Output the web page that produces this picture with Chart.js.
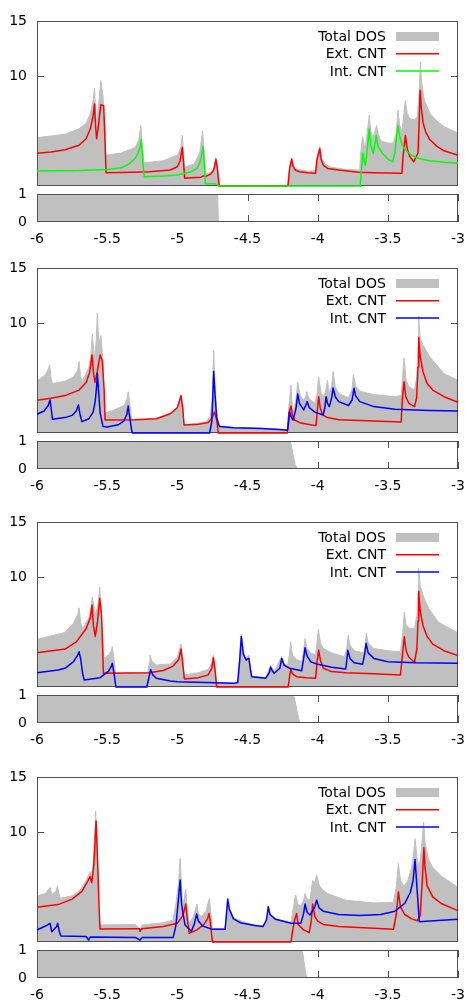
<!DOCTYPE html>
<html>
<head>
<meta charset="utf-8">
<script src="https://cdn.jsdelivr.net/npm/chart.js@4.4.1/dist/chart.umd.min.js"></script>
<style>
  body { margin: 0; background: #fff; width: 465px; height: 1001px; overflow: hidden; position: relative; }
  canvas { position: absolute; left: 0; }
</style>
</head>
<body>
<script>
// ---- data (energy, value) ----
const xTickValues = [-6, -5.5, -5, -4.5, -4, -3.5, -3];
const xTickLabels = ['-6', '-5.5', '-5', '-4.5', '-4', '-3.5', '-3'];
const mainYTicks = [10, 15];
const subYTicks = [0, 1];
const legendLabels = ['Total DOS', 'Ext. CNT', 'Int. CNT'];

// panel 1
const p1TotalDOS = [[-6,4.39],[-5.8,4.7],[-5.7,5.2],[-5.65,5.7],[-5.62,6.6],[-5.6,7.8],[-5.59,8.9],[-5.583,6.8],[-5.575,5.8],[-5.56,7.5],[-5.545,9.6],[-5.53,8.2],[-5.515,5.0],[-5.508,2.8],[-5.4,3.0],[-5.3,3.5],[-5.275,4.2],[-5.26,5.5],[-5.25,3.5],[-5.24,2.1],[-5.1,2.3],[-5.0,2.8],[-4.975,3.5],[-4.965,4.6],[-4.955,2.8],[-4.948,1.7],[-4.88,2.0],[-4.84,3.0],[-4.82,5.0],[-4.808,2.9],[-4.8,1.05],[-4.75,1.3],[-4.735,1.8],[-4.725,2.6],[-4.712,1.5],[-4.7,0],[-4.212,0],[-4.2,1.6],[-4.185,2.5],[-4.175,1.9],[-4.16,1.55],[-4.07,1.35],[-4.015,1.4],[-4.005,2.6],[-3.985,3.6],[-3.975,2.6],[-3.95,2.0],[-3.9,1.7],[-3.8,1.5],[-3.7,1.45],[-3.695,2.8],[-3.68,4.5],[-3.668,3.7],[-3.66,3.6],[-3.645,5.0],[-3.632,6.45],[-3.622,5.0],[-3.608,4.4],[-3.595,4.8],[-3.58,5.5],[-3.57,4.8],[-3.55,4.1],[-3.5,3.9],[-3.46,3.9],[-3.44,4.8],[-3.428,6.9],[-3.415,5.5],[-3.4,5.0],[-3.392,5.8],[-3.375,7.8],[-3.362,6.6],[-3.34,6.1],[-3.31,6.0],[-3.29,6.3],[-3.275,9.0],[-3.268,11.3],[-3.26,9.5],[-3.24,7.8],[-3.2,6.6],[-3.15,5.9],[-3.1,5.4],[-3.0,4.8]];
const p1ExtCNT = [[-6,2.97],[-5.9,3.1],[-5.8,3.3],[-5.7,3.7],[-5.65,4.3],[-5.62,5.2],[-5.6,6.4],[-5.59,7.45],[-5.583,5.5],[-5.575,4.3],[-5.565,5.2],[-5.555,6.3],[-5.545,7.4],[-5.525,7.3],[-5.515,4.0],[-5.508,1.2],[-5.4,1.22],[-5.2,1.3],[-5.05,1.45],[-5.0,1.75],[-4.98,2.3],[-4.965,3.5],[-4.955,2.0],[-4.948,0.7],[-4.9,0.75],[-4.83,0.8],[-4.815,0.92],[-4.8,0.85],[-4.76,1.1],[-4.74,1.5],[-4.725,2.4],[-4.715,1.6],[-4.705,0.3],[-4.7,0],[-4.212,0],[-4.2,1.6],[-4.185,2.45],[-4.175,1.8],[-4.16,1.45],[-4.13,1.3],[-4.07,1.2],[-4.015,1.15],[-4.005,2.4],[-3.985,3.4],[-3.975,2.4],[-3.96,1.9],[-3.93,1.6],[-3.85,1.45],[-3.71,1.24],[-3.6,1.2],[-3.4,1.15],[-3.392,2.6],[-3.375,4.6],[-3.362,3.4],[-3.345,2.7],[-3.316,2.2],[-3.285,3.0],[-3.275,6.5],[-3.27,8.7],[-3.262,7.2],[-3.25,5.8],[-3.23,4.9],[-3.2,4.2],[-3.15,3.6],[-3.1,3.2],[-3.0,2.8]];
const p1IntCNT = [[-6,1.36],[-5.7,1.4],[-5.5,1.5],[-5.4,1.65],[-5.35,1.95],[-5.3,2.5],[-5.28,3.0],[-5.265,3.6],[-5.258,4.25],[-5.25,3.0],[-5.24,1.2],[-5.235,0.85],[-5.1,0.9],[-5.0,1.0],[-4.9,1.3],[-4.86,1.6],[-4.84,2.1],[-4.825,2.9],[-4.817,3.6],[-4.808,2.0],[-4.8,0.2],[-4.73,0.2],[-4.715,0.1],[-4.71,0],[-3.697,0],[-3.688,1.5],[-3.678,3.0],[-3.668,2.2],[-3.66,1.9],[-3.645,3.5],[-3.632,5.2],[-3.622,3.7],[-3.604,2.95],[-3.592,3.8],[-3.582,4.6],[-3.57,3.6],[-3.54,3.0],[-3.5,2.45],[-3.465,2.2],[-3.45,3.0],[-3.44,4.2],[-3.428,5.5],[-3.415,4.5],[-3.4,3.8],[-3.376,3.3],[-3.33,2.8],[-3.28,2.5],[-3.2,2.3],[-3.1,2.15],[-3.0,2.06]];
const p1Trans = [[-6,1],[-4.712,1],[-4.708,0],[-3,0]];

// panel 2
const p2TotalDOS = [[-6,4.73],[-5.94,5.3],[-5.92,5.8],[-5.91,6.2],[-5.9,5.0],[-5.89,4.5],[-5.8,4.7],[-5.74,5.1],[-5.71,5.7],[-5.7,6.5],[-5.69,5.2],[-5.68,4.7],[-5.65,5.4],[-5.63,6.0],[-5.615,7.2],[-5.606,9.0],[-5.59,6.6],[-5.578,8.5],[-5.57,10.9],[-5.56,8.2],[-5.544,8.85],[-5.53,6.5],[-5.52,1.8],[-5.45,2.1],[-5.38,2.5],[-5.36,3.0],[-5.35,3.75],[-5.338,2.6],[-5.325,1.2],[-5.15,1.3],[-5.05,1.8],[-5.0,2.35],[-4.985,3.0],[-4.974,3.4],[-4.962,2.4],[-4.952,0.75],[-4.8,0.95],[-4.765,1.5],[-4.75,3.5],[-4.741,7.5],[-4.732,4.5],[-4.72,2.2],[-4.708,0.7],[-4.6,0.5],[-4.4,0.45],[-4.215,0.3],[-4.205,2.5],[-4.19,4.36],[-4.178,1.8],[-4.155,3.0],[-4.142,4.6],[-4.125,3.4],[-4.1,3.0],[-4.085,3.3],[-4.078,3.75],[-4.06,3.1],[-4.02,2.7],[-4.005,3.5],[-3.993,5.1],[-3.975,3.6],[-3.955,3.3],[-3.942,3.9],[-3.93,4.8],[-3.92,3.6],[-3.9,4.3],[-3.89,5.6],[-3.875,4.2],[-3.85,3.6],[-3.78,3.2],[-3.755,4.0],[-3.745,5.3],[-3.73,4.3],[-3.7,3.8],[-3.6,3.5],[-3.45,3.3],[-3.405,3.4],[-3.395,5.0],[-3.385,6.8],[-3.37,4.8],[-3.35,4.2],[-3.31,3.9],[-3.295,5.0],[-3.285,7.8],[-3.28,10.6],[-3.27,8.6],[-3.25,8.0],[-3.2,6.9],[-3.1,5.4],[-3.0,4.8]];
const p2ExtCNT = [[-6,2.97],[-5.9,3.15],[-5.8,3.4],[-5.7,3.9],[-5.65,4.6],[-5.625,5.5],[-5.608,7.1],[-5.598,5.5],[-5.587,4.6],[-5.57,5.6],[-5.55,7.1],[-5.535,6.6],[-5.522,4.0],[-5.515,1.18],[-5.3,1.2],[-5.15,1.3],[-5.05,1.75],[-5.0,2.3],[-4.985,2.9],[-4.974,3.4],[-4.962,2.3],[-4.952,0.73],[-4.85,0.8],[-4.78,0.95],[-4.755,1.3],[-4.736,1.9],[-4.72,1.2],[-4.708,0],[-4.216,0],[-4.205,1.8],[-4.19,2.45],[-4.18,1.6],[-4.165,1.18],[-4.12,0.9],[-4.04,0.73],[-4.012,0.68],[-4.003,2.0],[-3.993,3.3],[-3.982,2.3],[-3.965,1.64],[-3.93,1.4],[-3.85,1.2],[-3.6,1.1],[-3.405,1.0],[-3.397,3.0],[-3.385,4.67],[-3.372,3.3],[-3.35,2.7],[-3.31,2.4],[-3.295,3.2],[-3.285,6.0],[-3.28,8.7],[-3.27,7.0],[-3.25,5.6],[-3.22,4.5],[-3.18,3.9],[-3.1,3.3],[-3.0,2.8]];
const p2IntCNT = [[-6,1.7],[-5.95,2.0],[-5.92,2.5],[-5.907,3.0],[-5.897,2.0],[-5.89,1.24],[-5.8,1.4],[-5.75,1.6],[-5.72,2.0],[-5.705,2.55],[-5.695,1.8],[-5.68,1.03],[-5.63,1.3],[-5.6,1.9],[-5.585,2.9],[-5.575,4.3],[-5.57,5.4],[-5.56,3.6],[-5.55,1.8],[-5.53,0.6],[-5.5,0.55],[-5.42,0.75],[-5.38,1.1],[-5.36,1.7],[-5.35,2.45],[-5.34,1.5],[-5.325,0.2],[-5.32,0],[-4.77,0],[-4.755,1.0],[-4.748,3.0],[-4.741,5.6],[-4.733,3.8],[-4.72,1.4],[-4.7,0.6],[-4.6,0.48],[-4.4,0.42],[-4.25,0.3],[-4.215,0.25],[-4.205,1.2],[-4.2,1.94],[-4.19,1.5],[-4.175,1.18],[-4.155,2.2],[-4.142,3.55],[-4.13,2.7],[-4.1,2.1],[-4.085,2.5],[-4.074,2.85],[-4.06,2.3],[-4.02,1.9],[-3.96,1.64],[-3.948,2.4],[-3.94,3.3],[-3.93,2.7],[-3.917,2.4],[-3.9,3.2],[-3.89,4.1],[-3.875,3.3],[-3.85,2.85],[-3.78,2.5],[-3.755,3.0],[-3.741,4.06],[-3.73,3.4],[-3.7,2.85],[-3.6,2.4],[-3.45,2.15],[-3.2,2.05],[-3.0,2.0]];
const p2Trans = [[-6,1],[-4.197,1],[-4.19,0.9],[-4.175,0.5],[-4.16,0.15],[-4.145,0.02],[-4.138,0],[-3,0]];

// panel 3
const p3TotalDOS = [[-6,4.33],[-5.85,4.8],[-5.8,4.95],[-5.74,5.8],[-5.71,6.6],[-5.7,7.2],[-5.688,5.8],[-5.675,5.3],[-5.63,6.3],[-5.615,7.3],[-5.606,8.2],[-5.585,6.5],[-5.565,7.5],[-5.553,9.1],[-5.54,6.0],[-5.527,2.55],[-5.49,2.9],[-5.47,3.3],[-5.463,3.66],[-5.45,2.4],[-5.44,1.25],[-5.21,1.3],[-5.2,2.2],[-5.195,2.9],[-5.18,2.3],[-5.15,2.0],[-5.05,2.1],[-5.0,2.7],[-4.985,3.3],[-4.974,3.9],[-4.962,2.5],[-4.95,1.1],[-4.85,1.3],[-4.78,1.6],[-4.755,2.2],[-4.743,2.9],[-4.73,1.6],[-4.72,0.4],[-4.6,0.35],[-4.57,0.45],[-4.555,3.0],[-4.544,4.8],[-4.53,3.3],[-4.51,2.6],[-4.49,2.9],[-4.478,1.7],[-4.47,1.0],[-4.37,0.85],[-4.335,2.0],[-4.31,1.4],[-4.256,2.8],[-4.24,2.2],[-4.215,1.9],[-4.2,3.0],[-4.192,4.1],[-4.18,2.9],[-4.15,2.5],[-4.114,2.3],[-4.1,3.3],[-4.09,4.4],[-4.075,3.5],[-4.05,3.1],[-4.015,2.9],[-4.005,4.0],[-3.995,5.27],[-3.98,4.0],[-3.96,3.5],[-3.9,3.1],[-3.81,2.75],[-3.792,3.6],[-3.782,4.7],[-3.77,3.8],[-3.74,3.3],[-3.67,3.1],[-3.662,3.8],[-3.653,4.9],[-3.64,4.0],[-3.6,3.5],[-3.5,3.3],[-3.41,3.2],[-3.395,4.8],[-3.383,6.8],[-3.37,5.6],[-3.34,5.3],[-3.31,5.3],[-3.293,6.5],[-3.285,8.5],[-3.28,10.8],[-3.27,9.2],[-3.24,8.0],[-3.21,7.15],[-3.14,5.9],[-3.0,4.9]];
const p3ExtCNT = [[-6,3.12],[-5.8,3.45],[-5.72,4.1],[-5.65,5.3],[-5.62,6.3],[-5.608,7.45],[-5.598,5.6],[-5.585,4.6],[-5.57,5.8],[-5.553,8.06],[-5.54,6.5],[-5.532,3.5],[-5.527,1.25],[-5.2,1.3],[-5.1,1.5],[-5.03,1.9],[-4.99,2.5],[-4.974,3.45],[-4.962,2.2],[-4.95,0.73],[-4.85,0.85],[-4.78,1.1],[-4.755,1.7],[-4.743,2.66],[-4.73,1.4],[-4.72,0],[-4.21,0],[-4.2,1.0],[-4.192,1.64],[-4.18,1.2],[-4.15,0.94],[-4.08,0.85],[-4.015,0.79],[-4.005,2.2],[-3.993,3.36],[-3.98,2.4],[-3.96,1.7],[-3.9,1.4],[-3.8,1.3],[-3.6,1.2],[-3.41,1.1],[-3.395,3.0],[-3.383,4.57],[-3.37,3.3],[-3.35,2.7],[-3.31,2.25],[-3.293,3.5],[-3.285,6.0],[-3.28,8.7],[-3.27,7.0],[-3.25,5.6],[-3.22,4.6],[-3.18,3.9],[-3.1,3.3],[-3.0,2.85]];
const p3IntCNT = [[-6,1.3],[-5.85,1.55],[-5.8,1.7],[-5.74,2.3],[-5.71,2.9],[-5.7,3.2],[-5.688,2.5],[-5.675,1.2],[-5.663,0.64],[-5.55,0.85],[-5.49,1.45],[-5.47,1.9],[-5.463,2.15],[-5.452,1.3],[-5.44,0.2],[-5.437,0],[-5.218,0],[-5.2,1.0],[-5.19,1.6],[-5.175,1.1],[-5.15,0.8],[-5.05,0.55],[-5.0,0.48],[-4.8,0.4],[-4.6,0.33],[-4.57,0.4],[-4.555,2.5],[-4.544,4.6],[-4.53,3.0],[-4.51,2.45],[-4.5,2.55],[-4.49,2.6],[-4.478,1.5],[-4.47,0.94],[-4.37,0.8],[-4.345,1.3],[-4.335,1.8],[-4.32,1.4],[-4.31,1.25],[-4.27,1.7],[-4.256,2.6],[-4.24,2.0],[-4.2,1.7],[-4.114,1.48],[-4.1,2.6],[-4.09,3.57],[-4.075,2.8],[-4.05,2.3],[-4.0,2.06],[-3.9,1.8],[-3.8,1.64],[-3.792,2.5],[-3.785,3.33],[-3.77,2.6],[-3.74,2.2],[-3.68,2.06],[-3.665,3.0],[-3.655,3.97],[-3.64,3.1],[-3.6,2.6],[-3.5,2.3],[-3.3,2.2],[-3.0,2.15]];
const p3Trans = [[-6,1],[-4.174,1],[-4.165,0.9],[-4.15,0.5],[-4.135,0.15],[-4.125,0.02],[-4.12,0],[-3,0]];

// panel 4
const p4TotalDOS = [[-6,4.18],[-5.94,4.4],[-5.907,4.94],[-5.895,4.3],[-5.865,4.6],[-5.855,5.1],[-5.836,3.97],[-5.75,4.2],[-5.7,4.58],[-5.65,5.6],[-5.622,6.4],[-5.61,6.0],[-5.595,8.0],[-5.588,10.0],[-5.582,11.9],[-5.57,8.5],[-5.562,4.0],[-5.556,1.55],[-5.3,1.6],[-5.266,1.15],[-5.25,1.55],[-5.1,1.75],[-5.03,2.0],[-5.01,3.5],[-4.99,5.5],[-4.98,7.6],[-4.97,5.0],[-4.962,3.4],[-4.95,4.0],[-4.94,4.8],[-4.93,3.0],[-4.915,1.7],[-4.89,2.2],[-4.875,2.8],[-4.86,3.45],[-4.85,2.6],[-4.83,2.3],[-4.795,2.8],[-4.772,3.97],[-4.76,2.5],[-4.75,1.24],[-4.66,1.2],[-4.65,2.6],[-4.641,4.0],[-4.63,3.1],[-4.6,2.2],[-4.5,1.7],[-4.39,1.45],[-4.365,2.1],[-4.352,3.3],[-4.34,2.6],[-4.3,2.1],[-4.19,1.8],[-4.175,3.0],[-4.157,4.27],[-4.14,3.4],[-4.12,3.3],[-4.1,3.8],[-4.09,4.4],[-4.075,3.9],[-4.055,3.8],[-4.045,4.7],[-4.036,5.6],[-4.02,5.4],[-4.007,6.1],[-3.99,5.2],[-3.97,4.8],[-3.93,4.4],[-3.8,3.8],[-3.6,3.55],[-3.46,3.6],[-3.44,5.0],[-3.425,7.15],[-3.41,5.6],[-3.385,5.1],[-3.36,5.5],[-3.33,6.8],[-3.315,8.2],[-3.306,9.4],[-3.29,7.4],[-3.276,6.8],[-3.26,8.5],[-3.245,10.9],[-3.235,9.0],[-3.21,7.5],[-3.18,6.8],[-3.12,6.0],[-3.0,4.97]];
const p4ExtCNT = [[-6,3.15],[-5.85,3.4],[-5.75,3.9],[-5.68,4.6],[-5.64,5.5],[-5.622,5.94],[-5.61,5.4],[-5.595,7.0],[-5.585,9.5],[-5.579,11.0],[-5.57,8.0],[-5.56,4.0],[-5.551,1.18],[-5.3,1.2],[-5.27,1.2],[-5.266,0.97],[-5.255,1.2],[-5.1,1.4],[-5.0,1.7],[-4.96,2.4],[-4.94,3.45],[-4.93,2.2],[-4.915,0.79],[-4.86,1.1],[-4.81,1.6],[-4.785,2.1],[-4.774,2.6],[-4.765,1.8],[-4.75,0],[-4.19,0],[-4.18,0.9],[-4.165,2.0],[-4.15,2.6],[-4.14,1.6],[-4.1,1.1],[-4.06,0.85],[-4.045,2.0],[-4.036,3.45],[-4.02,2.3],[-4.0,1.9],[-3.96,1.6],[-3.85,1.4],[-3.6,1.25],[-3.46,1.15],[-3.44,2.5],[-3.425,4.55],[-3.41,3.2],[-3.38,2.5],[-3.33,2.1],[-3.29,1.94],[-3.27,2.4],[-3.255,5.5],[-3.243,8.57],[-3.235,6.8],[-3.22,5.1],[-3.18,4.1],[-3.12,3.5],[-3.0,2.85]];
const p4IntCNT = [[-6,1.09],[-5.94,1.45],[-5.907,1.7],[-5.895,0.94],[-5.86,1.4],[-5.853,1.7],[-5.84,0.9],[-5.83,0.55],[-5.65,0.5],[-5.632,0.18],[-5.62,0.45],[-5.3,0.42],[-5.266,0.18],[-5.25,0.4],[-5.03,0.4],[-5.01,1.5],[-4.995,3.5],[-4.98,5.64],[-4.97,3.5],[-4.96,2.6],[-4.945,1.55],[-4.9,0.97],[-4.88,1.6],[-4.862,2.55],[-4.85,1.9],[-4.82,1.45],[-4.75,1.15],[-4.66,1.15],[-4.65,2.5],[-4.641,3.88],[-4.63,3.0],[-4.6,2.1],[-4.55,1.75],[-4.45,1.5],[-4.39,1.4],[-4.365,2.0],[-4.352,3.2],[-4.34,2.5],[-4.3,2.06],[-4.19,1.7],[-4.12,1.7],[-4.1,2.6],[-4.09,3.45],[-4.075,2.7],[-4.055,2.45],[-4.02,3.2],[-4.007,3.8],[-3.99,3.1],[-3.96,2.8],[-3.85,2.5],[-3.7,2.4],[-3.55,2.5],[-3.45,2.8],[-3.38,3.5],[-3.34,4.5],[-3.32,5.6],[-3.306,7.5],[-3.29,4.5],[-3.276,1.85],[-3.2,1.9],[-3.0,2.06]];
const p4Trans = [[-6,1],[-4.114,1],[-4.105,0.85],[-4.095,0.5],[-4.085,0.15],[-4.078,0.03],[-4.074,0],[-3,0]];

// ---- style ----
const GRAY = '#c0c0c0';
const AXIS = '#505050';
Chart.defaults.font.family = "'DejaVu Sans', sans-serif";
Chart.defaults.font.size = 14;
Chart.defaults.color = '#000';

const panels = [
  { top: 21,  total: p1TotalDOS, ext: p1ExtCNT, int: p1IntCNT, trans: p1Trans, intColor: '#00ff00' },
  { top: 268, total: p2TotalDOS, ext: p2ExtCNT, int: p2IntCNT, trans: p2Trans, intColor: '#0000ff' },
  { top: 522, total: p3TotalDOS, ext: p3ExtCNT, int: p3IntCNT, trans: p3Trans, intColor: '#0000ff' },
  { top: 777, total: p4TotalDOS, ext: p4ExtCNT, int: p4IntCNT, trans: p4Trans, intColor: '#0000ff' }
];

const toXY = arr => arr.map(([x, y]) => ({ x, y }));

function drawBox(chart) {
  const { ctx, chartArea: a } = chart;
  ctx.save();
  ctx.strokeStyle = AXIS;
  ctx.lineWidth = 1;
  ctx.strokeRect(Math.round(a.left) + 0.5, Math.round(a.top) + 0.5,
                 Math.round(a.right - a.left) - 1, Math.round(a.bottom - a.top) - 1);
  ctx.restore();
}

// box + inner tick marks, gnuplot style
const framePlugin = {
  id: 'frame',
  beforeDatasetsDraw(chart, args, opts) {
    const { ctx, chartArea: a, scales } = chart;
    ctx.save();
    ctx.strokeStyle = AXIS;
    ctx.lineWidth = 1;
    ctx.beginPath();
    (opts.yTicks || []).forEach(v => {
      const y = Math.round(scales.y.getPixelForValue(v)) + 0.5;
      ctx.moveTo(a.left, y); ctx.lineTo(a.left + 7, y);
      ctx.moveTo(a.right, y); ctx.lineTo(a.right - 7, y);
    });
    (opts.xTicks || []).forEach(v => {
      const x = Math.round(scales.x.getPixelForValue(v)) + 0.5;
      ctx.moveTo(x, a.top); ctx.lineTo(x, a.top + 7);
      ctx.moveTo(x, a.bottom); ctx.lineTo(x, a.bottom - 7);
    });
    ctx.stroke();
    ctx.restore();
  },
  // the box goes over the gray fill but under the curves
  afterDatasetDraw(chart, args, opts) {
    if (args.index === opts.boxAfter) drawBox(chart);
  },
  afterDatasetsDraw(chart, args, opts) {
    if (opts.boxAfter === undefined) drawBox(chart);
  }
};

// key in the top right corner: text right-aligned, sample to its right
const keyPlugin = {
  id: 'dosKey',
  afterDraw(chart, args, opts) {
    const { ctx, chartArea: a } = chart;
    ctx.save();
    ctx.font = "14px 'DejaVu Sans', sans-serif";
    ctx.textAlign = 'right';
    ctx.textBaseline = 'middle';
    opts.entries.forEach((e, i) => {
      const y = a.top + 15.5 + i * 17.3;
      ctx.fillStyle = '#000';
      ctx.fillText(e.label, 386, y + 1);
      if (e.box) {
        ctx.fillStyle = e.color;
        ctx.fillRect(396, y - 4.5, 43, 9);
      } else {
        ctx.strokeStyle = e.color;
        ctx.lineWidth = 1.5;
        ctx.beginPath();
        ctx.moveTo(396, y); ctx.lineTo(439, y);
        ctx.stroke();
      }
    });
    ctx.restore();
  }
};

function addCanvas(top, height) {
  const c = document.createElement('canvas');
  c.width = 465; c.height = height;
  c.style.top = top + 'px';
  c.style.width = '465px'; c.style.height = height + 'px';
  document.body.appendChild(c);
  return c;
}

function yAxis(min, max, ticks) {
  return {
    type: 'linear', min, max,
    afterFit(s) { s.width = 37; s.paddingTop = 0; s.paddingBottom = 0; },
    afterBuildTicks(s) { s.ticks = ticks.map(v => ({ value: v })); },
    grid: { display: false, drawTicks: false },
    border: { display: false },
    ticks: { padding: 10, autoSkip: false }
  };
}

panels.forEach(p => {
  // DOS plot
  new Chart(addCanvas(p.top - 12, 178), {
    type: 'line',
    data: {
      datasets: [
        { label: legendLabels[2], data: toXY(p.int), borderColor: p.intColor, borderWidth: 1.5,
          pointRadius: 0, fill: false, order: 1, borderJoinStyle: 'round', clip: 3 },
        { label: legendLabels[1], data: toXY(p.ext), borderColor: '#ff0000', borderWidth: 1.5,
          pointRadius: 0, fill: false, order: 2, borderJoinStyle: 'round', clip: 3 },
        { label: legendLabels[0], data: toXY(p.total), borderColor: GRAY, backgroundColor: GRAY,
          borderWidth: 1, pointRadius: 0, fill: 'origin', order: 3 }
      ]
    },
    options: {
      responsive: false, animation: false, events: [],
      layout: { padding: { top: 12, right: 7, bottom: 1, left: 0 } },
      scales: {
        x: { type: 'linear', min: -6, max: -3, display: false },
        y: yAxis(0, 15, mainYTicks)
      },
      plugins: {
        legend: { display: false }, tooltip: { enabled: false },
        frame: { yTicks: [10], boxAfter: 2 },
        dosKey: { entries: [
          { label: legendLabels[0], color: GRAY, box: true },
          { label: legendLabels[1], color: '#ff0000' },
          { label: legendLabels[2], color: p.intColor }
        ] }
      }
    },
    plugins: [framePlugin, keyPlugin]
  });

  // transmission strip
  new Chart(addCanvas(p.top + 163, 68), {
    type: 'line',
    data: {
      datasets: [
        { data: toXY(p.trans), borderColor: GRAY, backgroundColor: GRAY, borderWidth: 1,
          pointRadius: 0, fill: 'origin' }
      ]
    },
    options: {
      responsive: false, animation: false, events: [],
      layout: { padding: { top: 10, right: 7, bottom: 0, left: 0 } },
      scales: {
        x: {
          type: 'linear', min: -6, max: -3,
          afterBuildTicks(s) { s.ticks = xTickValues.map(v => ({ value: v })); },
          afterFit(s) { s.height = 30; s.paddingLeft = 0; s.paddingRight = 0; },
          grid: { display: false, drawTicks: false },
          border: { display: false },
          ticks: { padding: 9, autoSkip: false, maxRotation: 0,
                   callback: v => xTickLabels[xTickValues.indexOf(v)] }
        },
        y: yAxis(0, 1, subYTicks)
      },
      plugins: {
        legend: { display: false }, tooltip: { enabled: false },
        frame: { xTicks: xTickValues }
      }
    },
    plugins: [framePlugin]
  });
});
</script>
</body>
</html>
